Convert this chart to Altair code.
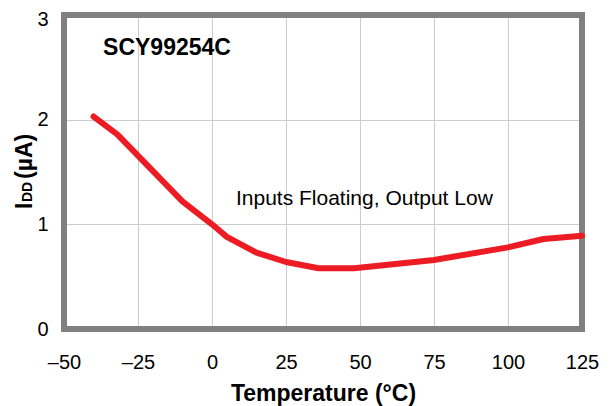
import altair as alt
import pandas as pd

# Data
temperature = [-40, -32, -10, 0, 5, 15, 25, 36, 48, 75, 100, 112, 125]
idd = [2.03, 1.86, 1.22, 1.0, 0.88, 0.73, 0.64, 0.58, 0.58, 0.66, 0.78, 0.86, 0.89]

x_ticks = [-50, -25, 0, 25, 50, 75, 100, 125]
y_ticks = [0, 1, 2, 3]

device_label = "SCY99254C"
condition_label = "Inputs Floating, Output Low"
x_title = "Temperature (°C)"
y_title_parts = ["I", "DD", "(µA)"]

W, H = 518, 314
FONT = "Liberation Sans"

df = pd.DataFrame({"T": temperature, "I": idd})

xscale = alt.Scale(domain=[-50, 125], nice=False, zero=False)
yscale = alt.Scale(domain=[0, 3], nice=False, zero=False)

xaxis = alt.Axis(values=x_ticks, title=x_title, grid=True, ticks=False, tickSize=0,
                 domain=False, labelFontSize=20, labelFont=FONT, labelColor="black",
                 labelBaseline="alphabetic", labelPadding=39, labelFlush=False,
                 labelExpr="datum.value < 0 ? '–' + abs(datum.value) : datum.label",
                 titleFont=FONT, titleFontSize=23, titleFontWeight="bold",
                 titleColor="black", titleBaseline="alphabetic", titleY=71,
                 gridColor="#cccccc", gridWidth=1)
yaxis = alt.Axis(values=y_ticks, title=None, grid=True, ticks=False, tickSize=0,
                 domain=False, labelFontSize=20, labelFont=FONT, labelColor="black",
                 labelPadding=16, labelBaseline="middle", labelFlush=False, format="d",
                 labelOffset={"condition": {"test": "datum.value === 3", "value": 4},
                              "value": 0},
                 gridColor="#cccccc", gridWidth=1)

base = alt.Chart(df)

border = base.mark_rect(fill=None, stroke="#808080", strokeWidth=5).encode(
    x=alt.value(0), x2=alt.value(W), y=alt.value(0), y2=alt.value(H)
)

line = base.mark_line(color="#ED1C24", strokeWidth=6, strokeCap="round",
                      strokeJoin="round").encode(
    x=alt.X("T:Q", scale=xscale, axis=xaxis),
    y=alt.Y("I:Q", scale=yscale, axis=yaxis),
)

lab1 = alt.Chart(pd.DataFrame({"T": [-36.8], "I": [2.62], "t": [device_label]})).mark_text(
    align="left", baseline="alphabetic", font=FONT, fontSize=23, fontWeight="bold",
    color="black"
).encode(x=alt.X("T:Q", scale=xscale), y=alt.Y("I:Q", scale=yscale), text="t:N")

lab2 = alt.Chart(pd.DataFrame({"T": [8.1], "I": [1.183], "t": [condition_label]})).mark_text(
    align="left", baseline="alphabetic", font=FONT, fontSize=21, color="black"
).encode(x=alt.X("T:Q", scale=xscale), y=alt.Y("I:Q", scale=yscale), text="t:N")

yt_sizes = [23, 14, 23]
yt_pos = [194, 187, 164]
ytitles = []
for part, sz, py in zip(y_title_parts, yt_sizes, yt_pos):
    ytitles.append(
        alt.Chart(pd.DataFrame({"t": [part]})).mark_text(
            align="left", baseline="alphabetic", angle=270, font=FONT,
            fontSize=sz, fontWeight="bold", color="black"
        ).encode(x=alt.value(-32), y=alt.value(py), text="t:N")
    )

chart = alt.layer(border, line, lab1, lab2, *ytitles).properties(
    width=W, height=H,
    autosize=alt.AutoSizeParams(type="none"),
    padding={"left": 56, "top": 7, "right": 20, "bottom": 80},
    background="white",
).configure_view(stroke=None)

chart.save("out.html", embed_options={"renderer": "svg", "actions": False})
